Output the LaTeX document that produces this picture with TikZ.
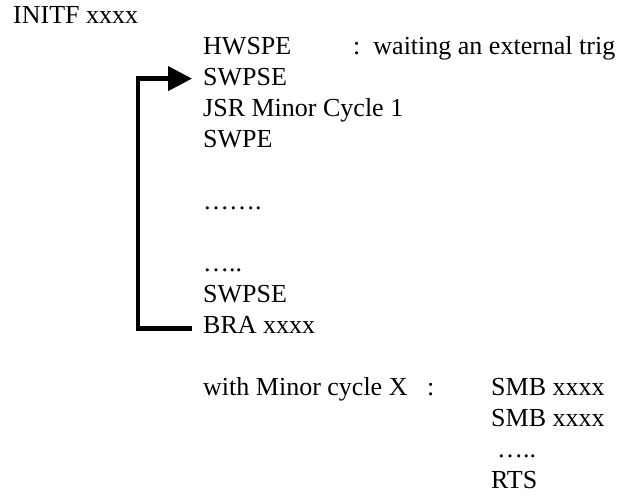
\documentclass[tikz,border=0pt]{standalone}
\usepackage{fontspec}
\setmainfont{Liberation Serif}
\usetikzlibrary{arrows.meta}
\begin{document}
\begin{tikzpicture}[x=1pt,y=-1pt,
  txt/.style={anchor=base west,inner sep=0pt,font=\fontsize{26}{31}\selectfont},
  loopline/.style={line width=4.2pt}]
\useasboundingbox (0,0) rectangle (620,496);
\node[txt] (initf) at (13,23) {INITF xxxx};
\node[txt] (hwspe) at (203,54) {HWSPE};
\node[txt] (wait) at (353,54) {:\ \ waiting an external trig};
\node[txt] (swpse1) at (203,85) {SWPSE};
\node[txt] (jsr) at (203,116) {JSR Minor Cycle 1};
\node[txt] (swpe) at (203,147) {SWPE};
\node[txt] (dots1) at (203,209) {…….};
\node[txt] (dots2) at (203,271) {…..};
\node[txt] (swpse2) at (203,302) {SWPSE};
\node[txt] (bra) at (203,333) {BRA xxxx};
\node[txt] (with) at (203,395) {with Minor cycle X};
\node[txt] (colon) at (427,395) {:};
\node[txt] (smb1) at (491,395) {SMB xxxx};
\node[txt] (smb2) at (491,426) {SMB xxxx};
\node[txt] (dots3) at (497,457) {…..};
\node[txt] (rts) at (491,488) {RTS};
\draw[loopline] ([xshift=-11pt,yshift=-4pt]bra.west) -- ++(-54,0) |- ([xshift=-11pt,yshift=-2pt]swpse1.west)
  [-{Triangle[length=24pt,width=24pt]}];
\end{tikzpicture}
\end{document}
